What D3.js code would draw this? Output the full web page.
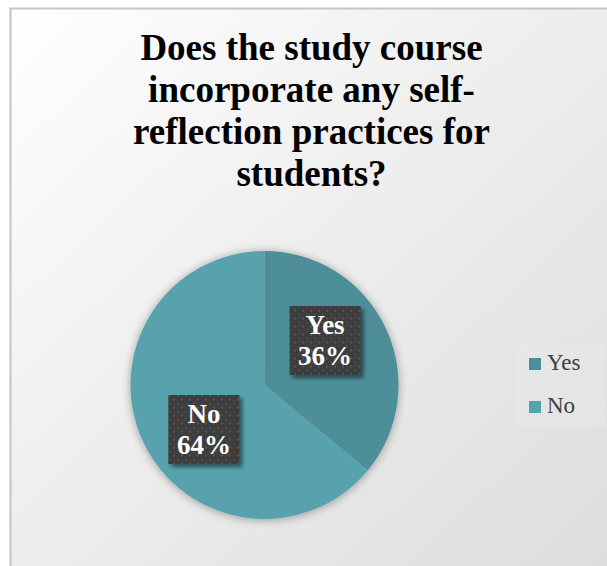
<!DOCTYPE html>
<html>
<head>
<meta charset="utf-8">
<script src="https://cdn.jsdelivr.net/npm/d3@7"></script>
<style>
  html, body { margin: 0; padding: 0; background: #ffffff; }
  svg { display: block; }
</style>
</head>
<body>
<svg id="chart" width="607" height="566"></svg>
<script>
// Survey answers
const categories = ["Yes", "No"];
const percentages = [36, 64];
const sliceColors = ["#4e8e98", "#58a2ae"];
const titleLines = ["Does the study course", "incorporate any self-", "reflection practices for", "students?"];

const FONT = '"Liberation Serif"';
const svg = d3.select("#chart");
const W = 607, H = 566;
const defs = svg.append("defs");

// Chart area background: white fading to light gray toward bottom-right
const bg = defs.append("linearGradient").attr("id", "bgGrad")
  .attr("x1", "0%").attr("y1", "0%").attr("x2", "100%").attr("y2", "100%");
bg.append("stop").attr("offset", "0%").attr("stop-color", "#ffffff");
bg.append("stop").attr("offset", "45%").attr("stop-color", "#eeeeee");
bg.append("stop").attr("offset", "100%").attr("stop-color", "#dcdcdc");

// Soft shadow for the pie
const pieShadow = defs.append("filter").attr("id", "pieShadow")
  .attr("x", "-20%").attr("y", "-20%").attr("width", "140%").attr("height", "140%");
pieShadow.append("feGaussianBlur").attr("in", "SourceAlpha").attr("stdDeviation", 5).attr("result", "b");
pieShadow.append("feOffset").attr("in", "b").attr("dx", 0).attr("dy", 1).attr("result", "o");
pieShadow.append("feComponentTransfer").attr("in", "o").attr("result", "s")
  .append("feFuncA").attr("type", "linear").attr("slope", 0.35);
const pm = pieShadow.append("feMerge");
pm.append("feMergeNode").attr("in", "s");
pm.append("feMergeNode").attr("in", "SourceGraphic");

// Shadow for label boxes
const boxShadow = defs.append("filter").attr("id", "boxShadow")
  .attr("x", "-20%").attr("y", "-20%").attr("width", "150%").attr("height", "150%");
boxShadow.append("feGaussianBlur").attr("in", "SourceAlpha").attr("stdDeviation", 2).attr("result", "b");
boxShadow.append("feOffset").attr("in", "b").attr("dx", 3).attr("dy", 3).attr("result", "o");
boxShadow.append("feComponentTransfer").attr("in", "o").attr("result", "s")
  .append("feFuncA").attr("type", "linear").attr("slope", 0.5);
const bm = boxShadow.append("feMerge");
bm.append("feMergeNode").attr("in", "s");
bm.append("feMergeNode").attr("in", "SourceGraphic");

// Dotted texture for label boxes
const pat = defs.append("pattern").attr("id", "dots")
  .attr("patternUnits", "userSpaceOnUse").attr("width", 8).attr("height", 8);
pat.append("rect").attr("width", 8).attr("height", 8).attr("fill", "#3d3d3d");
pat.append("rect").attr("x", 1).attr("y", 1).attr("width", 2).attr("height", 2).attr("fill", "#555555");
pat.append("rect").attr("x", 5).attr("y", 5).attr("width", 2).attr("height", 2).attr("fill", "#4a4a4a");

// Chart frame
svg.append("rect")
  .attr("x", 10.5).attr("y", 8.5).attr("width", W + 10).attr("height", H + 10)
  .attr("fill", "url(#bgGrad)").attr("stroke", "#c4c4c4").attr("stroke-width", 2);

// Title, one text element per line
svg.append("g").selectAll("text").data(titleLines).join("text")
  .attr("x", 311.5).attr("y", (d, i) => 59.5 + i * 42)
  .attr("text-anchor", "middle")
  .style("font-family", FONT)
  .attr("font-weight", "bold").attr("font-size", 37).attr("fill", "#000")
  .text(d => d);

// Pie
const cx = 264.5, cy = 385, R = 134;
const data = categories.map((c, i) => ({ cat: c, value: percentages[i], color: sliceColors[i] }));
const pie = d3.pie().value(d => d.value).sort(null);
const arcs = pie(data);
const arc = d3.arc().innerRadius(0).outerRadius(R);

const g = svg.append("g").attr("transform", `translate(${cx},${cy})`);
g.append("g").attr("filter", "url(#pieShadow)")
  .selectAll("path").data(arcs).join("path")
  .attr("d", arc).attr("fill", d => d.data.color);

// Data labels: slice centroid, pushed vertically away from the centre
const boxW = 71, boxH = 69;
const labels = g.selectAll("g.lbl").data(arcs).join("g").attr("class", "lbl")
  .attr("transform", d => {
    const [x, y] = arc.centroid(d);
    return `translate(${x},${y * 1.56})`;
  });
labels.append("rect")
  .attr("x", -boxW / 2).attr("y", -boxH / 2).attr("width", boxW).attr("height", boxH)
  .attr("fill", "url(#dots)").attr("filter", "url(#boxShadow)");
labels.selectAll("text").data(d => [d.data.cat, d.data.value + "%"]).join("text")
  .attr("x", 0).attr("y", (d, i) => -6.5 + i * 31)
  .attr("text-anchor", "middle")
  .style("font-family", FONT)
  .attr("font-weight", "bold").attr("font-size", 27).attr("fill", "#ffffff")
  .text(d => d);

// Legend
svg.append("rect").attr("x", 517).attr("y", 343).attr("width", 88).attr("height", 84)
  .attr("fill", "#ffffff").attr("opacity", 0.1);
const legend = svg.append("g").attr("transform", "translate(529,358)");
const li = legend.selectAll("g").data(data).join("g")
  .attr("transform", (d, i) => `translate(0,${i * 43})`);
li.append("rect").attr("width", 12).attr("height", 12).attr("fill", d => d.color);
li.append("text").attr("x", 18).attr("y", 11.5)
  .style("font-family", FONT)
  .attr("font-size", 23).attr("fill", "#404040")
  .text(d => d.cat);
</script>
</body>
</html>
